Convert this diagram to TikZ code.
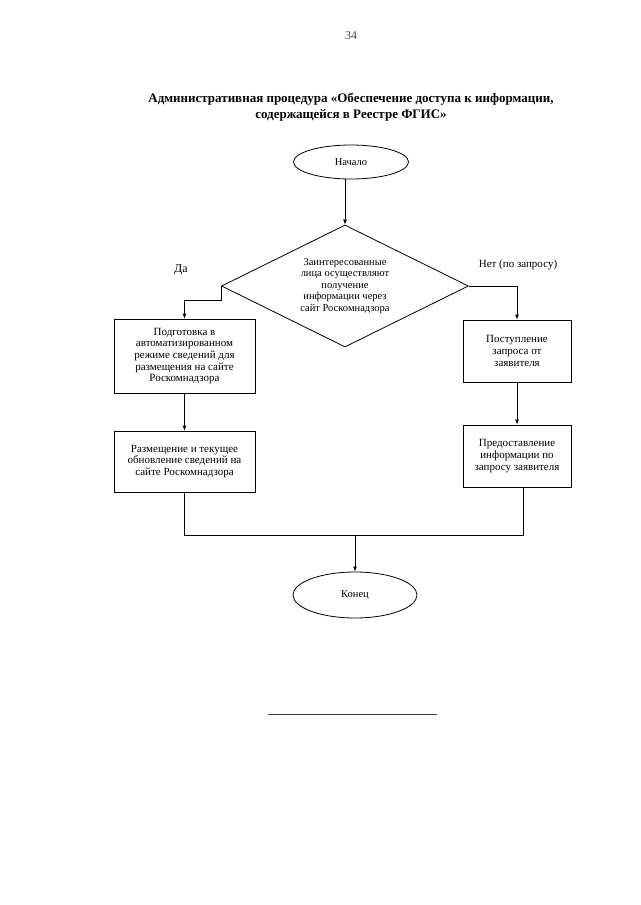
\documentclass[tikz,border=0pt]{standalone}
\usepackage{fontspec}
\setmainfont{Liberation Serif}
\usetikzlibrary{arrows.meta,shapes.geometric,positioning,calc}

\begin{document}
\begin{tikzpicture}[
    % GLOBAL CFG
    x=1pt, y=-1pt,
    >={Latex[length=5pt,width=4pt]},
    line width=0.8pt,
    font=\fontsize{10.5}{11.5}\selectfont,
    % Styles
    terminal/.style={% For start and end
        ellipse,
        draw,
        inner sep=0pt,
        },
    decision/.style={% For the question
        diamond,
        draw,
        aspect=2,
        inner sep=0pt,
        minimum width=247pt,
        minimum height=122pt,
        align=center,
        },
    process/.style={% For the steps
        rectangle,
        draw,
        align=center,
        inner sep=1pt,
        font=\fontsize{11}{11.6}\selectfont,
        },
    caption/.style={% For the answers
        font=\fontsize{11}{13}\selectfont,
        },
    ]

    \useasboundingbox (0,0) rectangle (640,905);

    % Page head
    \node [font=\fontsize{12}{14}\selectfont, text=black!70] (pagenum) at (351,36) {34};
    \node [align=center, font=\fontsize{13}{16}\selectfont\bfseries] (title) at (351,107)
        {Административная процедура «Обеспечение доступа к информации,\\содержащейся в Реестре ФГИС»};

    % Draw start, question and end
    \node [terminal, minimum width=115pt, minimum height=34pt] (start) at (351,162) {Начало};
    \node [decision] (dec) at (345,286) {Заинтересованные\\лица осуществляют\\получение\\информации через\\сайт Роскомнадзора};
    \node [terminal, minimum width=124pt, minimum height=46pt] (fin) at (355,595) {Конец};

    % Answers
    \node [caption, font=\fontsize{12}{13}\selectfont] (yes) at (181,270) {Да};
    \node [caption] (no) at (518,265) {Нет (по запросу)};

    % Draw steps named lb# (left) and rb# (right)
    \node [process, minimum width=141pt, minimum height=74pt] (lb1) at (184.5,356)
        {Подготовка в\\автоматизированном\\режиме сведений для\\размещения на сайте\\Роскомнадзора};
    \node [process, minimum width=141pt, minimum height=61pt] (lb2) at (184.5,461.5)
        {Размещение и текущее\\обновление сведений на\\сайте Роскомнадзора};
    \node [process, minimum width=108pt, minimum height=62pt] (rb1) at (517,351)
        {Поступление\\запроса от\\заявителя};
    \node [process, minimum width=108pt, minimum height=62pt] (rb2) at (517,456)
        {Предоставление\\информации по\\запросу заявителя};

    % Start connecting all.
    \draw [->] (dec.north |- start.south) -- (dec.north);
    \draw [->] (dec.west) -- ++(0,14) -| (lb1.north);
    \draw [->] (dec.east) -| (rb1.north);
    \draw [->] (lb1) -- (lb2);
    \draw [->] (rb1) -- (rb2);

    % Outputs
    \coordinate (rj) at ([xshift=6pt]rb2.south);
    \path (lb2.south) ++(0,43) coordinate (bus);
    \draw (lb2.south) -- (bus) -| (rj);
    \draw [->] (bus -| fin.north) -- (fin.north);

    % Closing rule
    \draw [line width=0.6pt, black!75] (268,714) -- (437,714);

\end{tikzpicture}
\end{document}
